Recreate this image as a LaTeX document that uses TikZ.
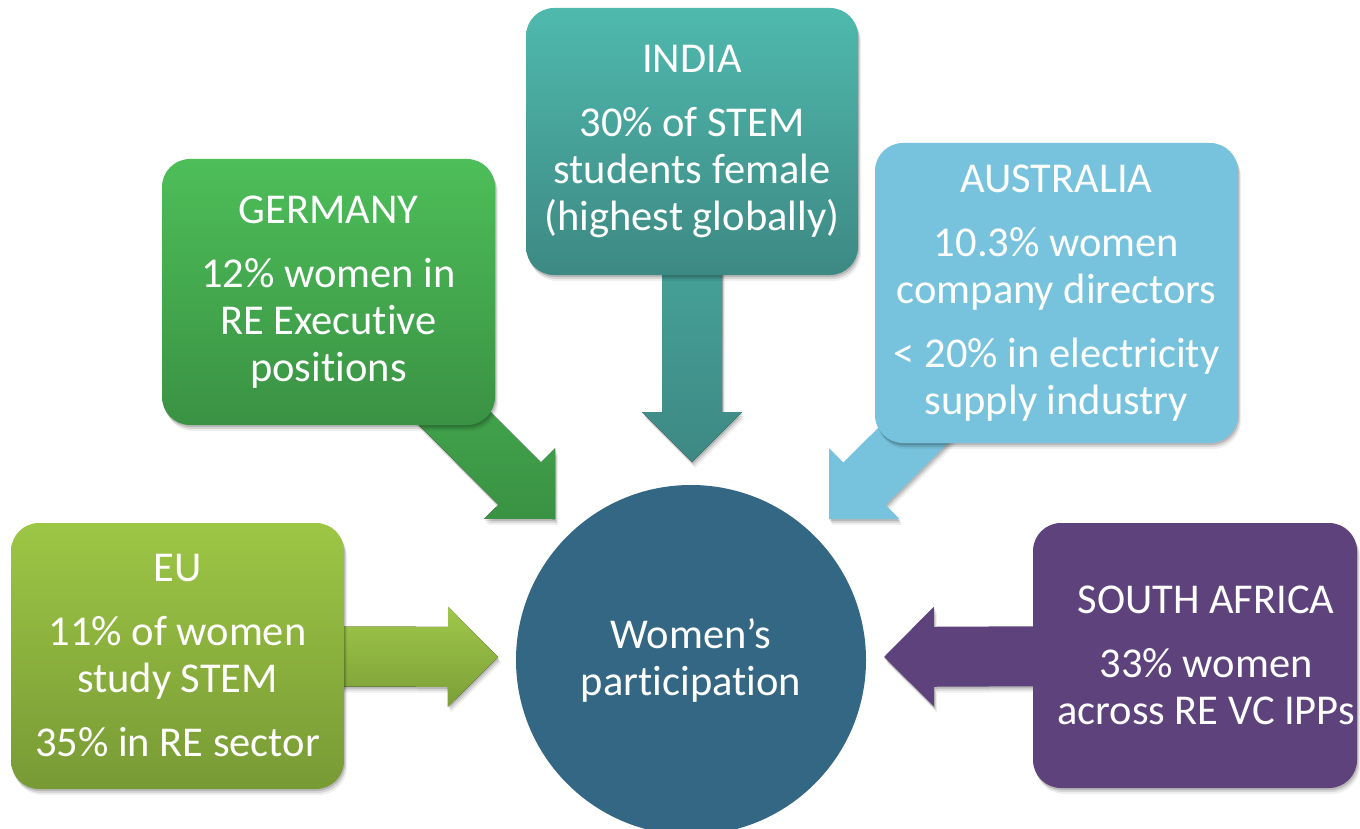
\documentclass[tikz,border=0pt]{standalone}
\usepackage{fontspec}
\setmainfont{Carlito}[Ligatures={NoCommon,NoRare}]
\usetikzlibrary{calc,shadows}

\definecolor{euTop}{HTML}{9DC645}
\definecolor{euBot}{HTML}{789A35}
\definecolor{geTop}{HTML}{4DBE59}
\definecolor{geBot}{HTML}{3A9243}
\definecolor{inTop}{HTML}{4FB9AE}
\definecolor{inBot}{HTML}{3D8983}
\definecolor{auFill}{HTML}{77C3DD}
\definecolor{saFill}{HTML}{5D427C}
\definecolor{hubFill}{HTML}{336783}

% broad block arrow from #2 to the tip #3 (shaft 60pt, head 100pt wide, 50pt long)
\newcommand{\blockarrow}[3][]{%
  \path ($(#3)!50pt!(#2)$) coordinate (hb);
  \fill[#1] ($(#2)!30pt!90:(#3)$) -- ($(hb)!30pt!90:(#3)$) -- ($(hb)!50pt!90:(#3)$)
    -- (#3) -- ($(hb)!50pt!-90:(#3)$) -- ($(hb)!30pt!-90:(#3)$)
    -- ($(#2)!30pt!-90:(#3)$) -- cycle;}

\tikzset{
  softshadow/.style={
    drop shadow={shadow xshift=1pt,shadow yshift=-2pt,opacity=.14,fill=black},
    drop shadow={shadow xshift=2pt,shadow yshift=-4pt,opacity=.10,fill=black},
    drop shadow={shadow xshift=3pt,shadow yshift=-6pt,opacity=.06,fill=black}},
  bodytext/.style={text=white, align=center, inner sep=0pt,
    font=\fontsize{42.5pt}{47pt}\selectfont},
  card/.style={rounded corners=28pt, softshadow, bodytext},
  hub/.style={circle, fill=hubFill, minimum size=350pt, bodytext},
}

\begin{document}
\begin{tikzpicture}[x=1pt,y=-1pt]
\useasboundingbox (0,0) rectangle (1360,829);
\clip (0,0) rectangle (1360,829);
\fill[white] (0,0) rectangle (1360,829);

% centre
\node[hub] (hub) at (691,660) {Women’s\\participation};

% arrow tips
\coordinate (tEU) at (498,657);
\coordinate (tGE) at (555,519);
\coordinate (tIN) at (692,462);
\coordinate (tAU) at (829,519);
\coordinate (tSA) at (884,657);

% box centres
\coordinate (cEU) at (177.5,656);
\coordinate (cGE) at (328.5,292);
\coordinate (cIN) at (692,141.5);
\coordinate (cAU) at (1056.5,293);
\coordinate (cSA) at (1195,655.5);

% arrows (drawn first, the boxes cover their tails)
\blockarrow[top color=euTop!97!white, bottom color=euBot!90!euTop, softshadow]{cEU}{tEU}
\blockarrow[top color=geTop!85!geBot, bottom color=geBot, softshadow]{cGE}{tGE}
\blockarrow[top color=inTop!80!inBot, bottom color=inBot, softshadow]{cIN}{tIN}
\blockarrow[fill=auFill, softshadow]{cAU}{tAU}
\blockarrow[fill=saFill, softshadow]{cSA}{tSA}

% boxes
\node[card, top color=euTop, bottom color=euBot, minimum width=333pt, minimum height=266pt]
  (eu) at (cEU) {EU\\[17pt]11\% of women\\study STEM\\[17pt]35\% in RE sector};
\node[card, top color=geTop, bottom color=geBot, minimum width=333pt, minimum height=266pt]
  (ge) at (cGE) {GERMANY\\[17pt]12\% women in\\RE Executive\\positions};
\node[card, top color=inTop, bottom color=inBot, minimum width=332pt, minimum height=267pt]
  (in) at (cIN) {INDIA\\[17pt]30\% of STEM\\students female\\(highest globally)};
\node[card, fill=auFill, minimum width=363pt, minimum height=300pt]
  (au) at (cAU) {AUSTRALIA\\[17pt]10.3\% women\\company directors\\[17pt]< 20\% in electricity\\supply industry};
\node[card, fill=saFill, minimum width=324pt, minimum height=265pt] (sa) at (cSA) {};
\node[bodytext] (saText) at ($(sa.center)+(11,0)$)
  {SOUTH AFRICA\\[17pt]33\% women\\across RE VC IPPs};
\end{tikzpicture}
\end{document}
